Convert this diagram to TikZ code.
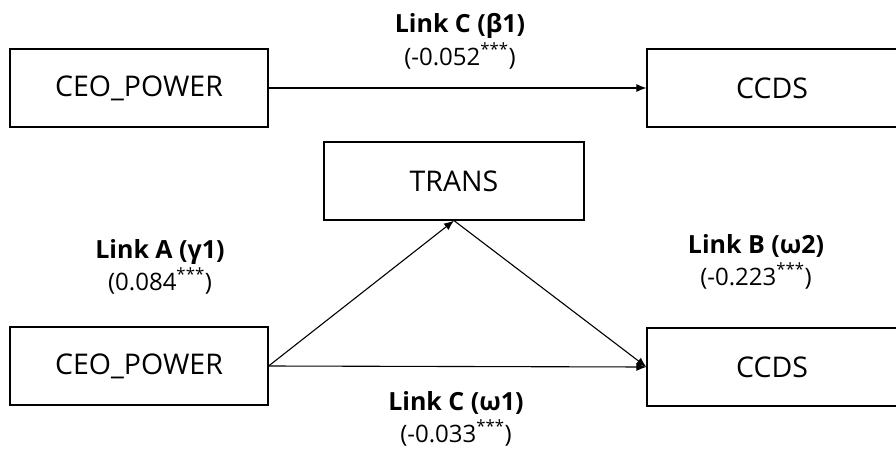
\documentclass[tikz,border=0pt]{standalone}
\usepackage{fontspec}
\setmainfont{Open Sans}
\usetikzlibrary{arrows.meta}
\tikzset{
  box/.style={draw, line width=1.2pt, minimum height=78pt, inner sep=0pt, font=\fontsize{28.5}{34}\selectfont},
  link/.style={line width=1.1pt, -{Latex[length=10pt,width=8pt]}},
  labt/.style={anchor=base, inner sep=0pt, font=\fontsize{25}{30}\selectfont\bfseries},
  labn/.style={anchor=base, inner sep=0pt, font=\fontsize{24}{30}\selectfont}
}
\begin{document}
\begin{tikzpicture}[x=1pt,y=-1pt]
\useasboundingbox (0,0) rectangle (896,452);
% top model
\node[box, minimum width=258pt] (ceo1) at (139,88) {CEO\_POWER};
\node[box, minimum width=250pt] (ccds1) at (772,88) {CCDS};
\draw[link] (ceo1) -- (ccds1);
\node[labt] (l1t) at (460,33) {Link C (β1)};
\node[labn] (l1n) at (460,65) {(-0.052\textsuperscript{***})};
% bottom model
\node[box, minimum width=260pt] (trans) at (454,181) {TRANS};
\node[box, minimum width=258pt] (ceo2) at (139,366) {CEO\_POWER};
\node[box, minimum width=250pt] (ccds2) at (772,367) {CCDS};
\draw[link] (ceo2.east) -- (trans.south);
\draw[link] (trans.south) -- (ccds2.west);
\draw[link] (ceo2.east) -- (ccds2.west);
\node[labt] (lat) at (160,258) {Link A (γ1)};
\node[labn] (lan) at (160,290) {(0.084\textsuperscript{***})};
\node[labt] (lbt) at (756,253) {Link B (ω2)};
\node[labn] (lbn) at (756,285) {(-0.223\textsuperscript{***})};
\node[labt] (lct) at (456,410) {Link C (ω1)};
\node[labn] (lcn) at (456,442) {(-0.033\textsuperscript{***})};
\end{tikzpicture}
\end{document}
